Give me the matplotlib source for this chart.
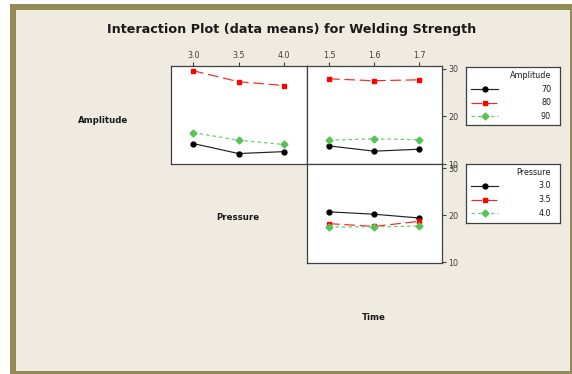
import matplotlib
matplotlib.use("Agg")
import matplotlib.pyplot as plt
from matplotlib.patches import Rectangle
from matplotlib.lines import Line2D

# factor levels
pressure = [3.0, 3.5, 4.0]
time_lv = [1.5, 1.6, 1.7]
amplitude = ["70", "80", "90"]
pressure_labels = ["3.0", "3.5", "4.0"]

# mean welding strength, Amplitude x Pressure
amp_by_pressure = {
    "70": [14.3, 12.2, 12.6],
    "80": [29.6, 27.3, 26.5],
    "90": [16.6, 15.0, 14.1],
}
# mean welding strength, Amplitude x Time
amp_by_time = {
    "70": [13.8, 12.7, 13.1],
    "80": [27.9, 27.5, 27.7],
    "90": [15.0, 15.3, 15.1],
}
# mean welding strength, Pressure x Time
pres_by_time = {
    "3.0": [20.7, 20.2, 19.4],
    "3.5": [18.2, 17.6, 18.7],
    "4.0": [17.5, 17.5, 17.7],
}

styles = [
    dict(color="#222222", marker="o", linestyle="-", mfc="black", mec="black"),
    dict(color="#ff2020", marker="s", linestyle=(0, (9, 4)), mfc="red", mec="red"),
    dict(color="#66cc66", marker="D", linestyle=(0, (3, 2.5)), mfc="#55c455", mec="#55c455"),
]

W, H = 572, 374
fig = plt.figure(figsize=(W / 100, H / 100), dpi=100, facecolor="white")


def rect(x0, y0, x1, y1):
    return [x0 / W, 1 - y1 / H, (x1 - x0) / W, (y1 - y0) / H]


# olive frame and panel background
fig.patches.append(Rectangle((10 / W, 0), 1 - 10 / W, 1 - 4 / H, transform=fig.transFigure,
                             facecolor="#948a53", edgecolor="none", zorder=-10))
fig.patches.append(Rectangle((16 / W, 3 / H), (570 - 16) / W, (371 - 10) / H,
                             transform=fig.transFigure, facecolor="#efebe1",
                             edgecolor="none", zorder=-9))

fig.text(292 / W, 1 - 30 / H, "Interaction Plot (data means) for Welding Strength",
         ha="center", va="center", fontsize=9.2, fontweight="bold", color="#1a1a1a")

frame_col = "#404040"
tick_fs = 5.8


def style_axes(ax, xticks, xlabels, yright, top):
    for s in ax.spines.values():
        s.set_color(frame_col)
        s.set_linewidth(0.9)
    ax.set_facecolor("white")
    if top:
        ax.xaxis.tick_top()
        ax.set_xticks(xticks)
        ax.set_xticklabels(xlabels)
        ax.tick_params(axis="x", direction="out", length=3, width=0.8,
                       colors=frame_col, labelsize=tick_fs, pad=1.5)
    else:
        ax.set_xticks([])
    if yright:
        ax.yaxis.tick_right()
        ax.set_yticks([10, 20, 30])
        ax.tick_params(axis="y", direction="out", length=3, width=0.8,
                       colors=frame_col, labelsize=tick_fs, pad=1.5)
    else:
        ax.set_yticks([])


def draw(ax, xs, series):
    for vals, st in zip(series.values(), styles):
        ax.plot(xs, vals, linewidth=0.85, markersize=3.5, **st)


ax_a = fig.add_axes(rect(171, 66, 307, 164))
draw(ax_a, pressure, amp_by_pressure)
ax_a.set_xlim(2.755, 4.255)
ax_a.set_ylim(10, 30.6)
style_axes(ax_a, pressure, pressure_labels, False, True)

ax_b = fig.add_axes(rect(307, 66, 442, 164))
draw(ax_b, time_lv, amp_by_time)
ax_b.set_xlim(1.451, 1.751)
ax_b.set_ylim(10, 30.6)
style_axes(ax_b, time_lv, [str(t) for t in time_lv], True, True)

ax_c = fig.add_axes(rect(307, 164, 442, 263))
draw(ax_c, time_lv, pres_by_time)
ax_c.set_xlim(1.451, 1.751)
ax_c.set_ylim(9.85, 30.85)
style_axes(ax_c, time_lv, None, True, False)

# factor names along the diagonal
for x, y, t in [(103, 121, "Amplitude"), (238, 218, "Pressure"), (374, 318, "Time")]:
    fig.text(x / W, 1 - y / H, t, ha="center", va="center", fontsize=6.2,
             fontweight="bold", color="#1a1a1a")


def legend_box(box, title, labels):
    # box in pixel coords: left, top, right, bottom
    lax = fig.add_axes(rect(*box))
    lax.set_xlim(box[0], box[2])
    lax.set_ylim(box[3], box[1])
    lax.set_xticks([])
    lax.set_yticks([])
    lax.set_facecolor("white")
    for s in lax.spines.values():
        s.set_color(frame_col)
        s.set_linewidth(0.9)
    top = box[1]
    lax.text(551, top + 8.5, title, ha="right", va="center", fontsize=5.8, color="#1a1a1a")
    for i, (lab, st) in enumerate(zip(labels, styles)):
        y = top + 22 + i * 13.6
        lax.add_line(Line2D([471, 484.5, 498], [y, y, y], linewidth=0.85,
                            markersize=3.5, markevery=[1], **st))
        lax.text(551, y, lab, ha="right", va="center", fontsize=5.8, color="#1a1a1a")


legend_box((466, 67, 560, 125), "Amplitude", amplitude)
legend_box((466, 164, 560, 223), "Pressure", pressure_labels)

fig.savefig("out.png", dpi=100, facecolor=fig.get_facecolor())
